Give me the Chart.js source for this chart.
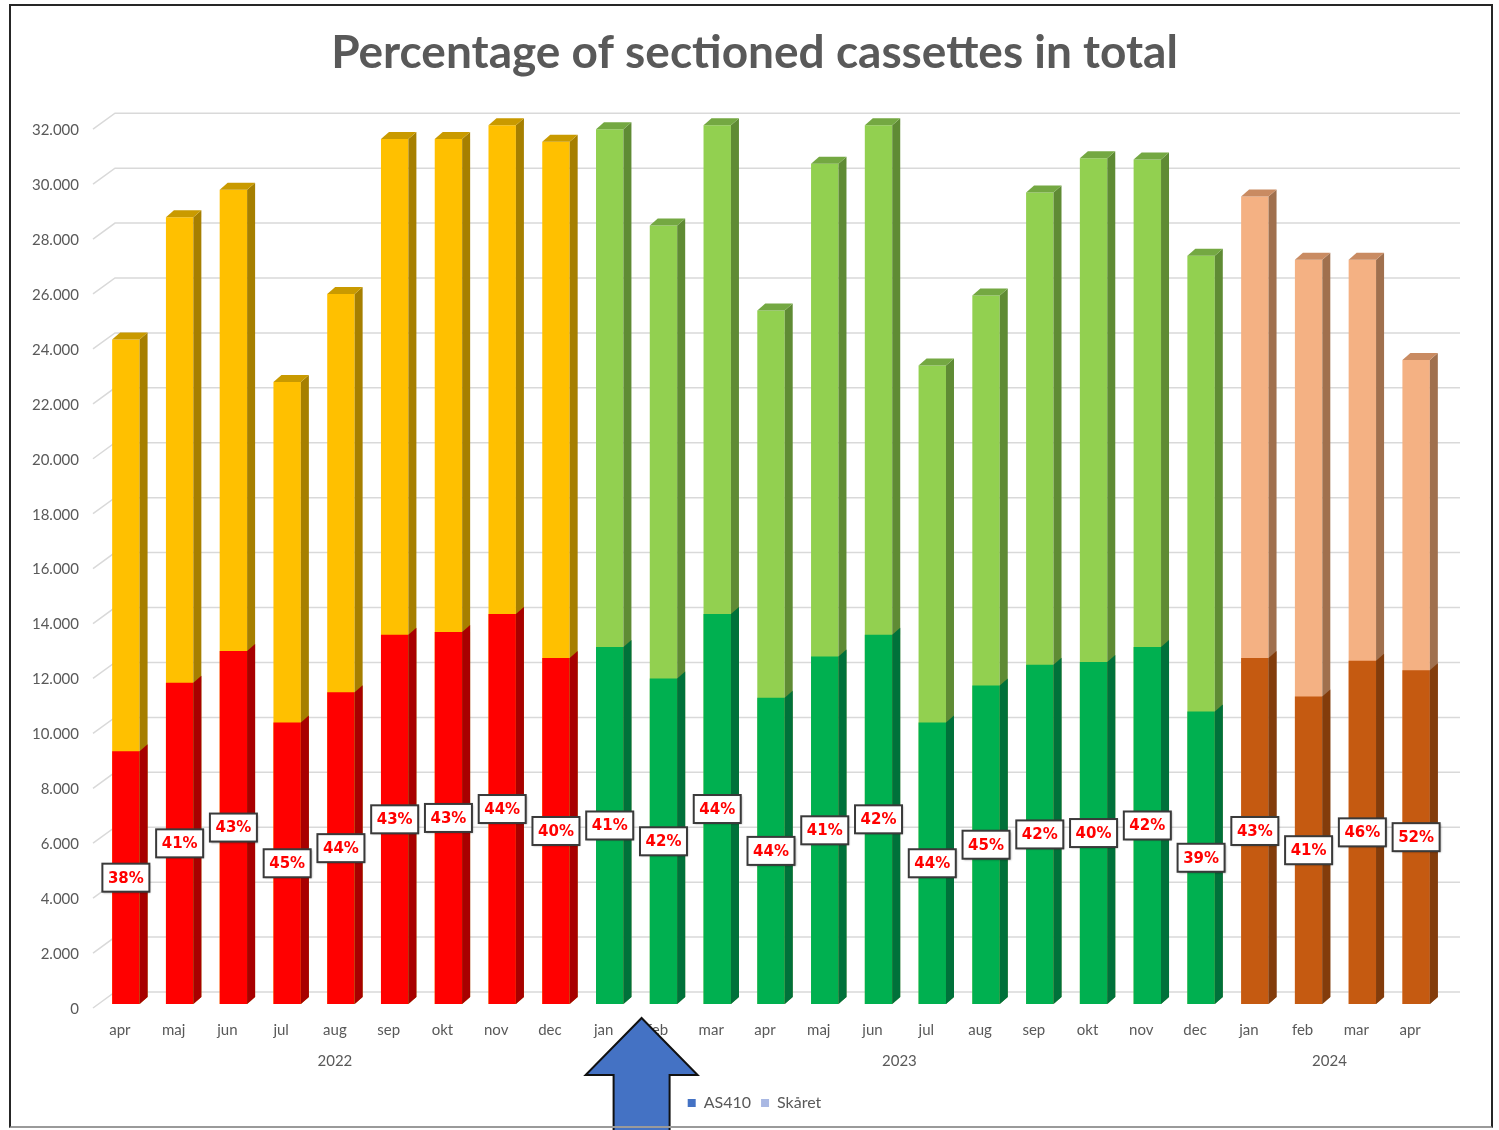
<!DOCTYPE html>
<html>
<head>
<meta charset="utf-8">
<title>Percentage of sectioned cassettes in total</title>
<script src="https://cdn.jsdelivr.net/npm/chart.js@4/dist/chart.umd.min.js"></script>
<style>
  html, body { margin: 0; padding: 0; background: #ffffff; }
  #wrap { position: relative; width: 1499px; height: 1130px; overflow: hidden; }
  #c { position: absolute; left: 0; top: 0; }
  #frame {
    position: absolute; left: 9px; top: 4px; width: 1484px; height: 1124px;
    box-sizing: border-box; border: 2px solid #262626; border-bottom-color: #9a9a9a;
    pointer-events: none;
  }
</style>
</head>
<body>
<div id="wrap">
  <canvas id="c" width="1499" height="1130"></canvas>
  <div id="frame"></div>
</div>
<script>
// Months shown on the category axis, with the year each month belongs to
const months = ['apr','maj','jun','jul','aug','sep','okt','nov','dec',
                'jan','feb','mar','apr','maj','jun','jul','aug','sep','okt','nov','dec',
                'jan','feb','mar','apr'];
const years  = ['2022','2022','2022','2022','2022','2022','2022','2022','2022',
                '2023','2023','2023','2023','2023','2023','2023','2023','2023','2023','2023','2023',
                '2024','2024','2024','2024'];

// Cassettes processed on AS410 per month (total)
const as410   = [24200, 28650, 29650, 22650, 25850, 31500, 31500, 32000, 31400,
                 31850, 28350, 32000, 25250, 30600, 32000, 23250, 25800, 29550, 30800, 30750, 27250,
                 29400, 27100, 27100, 23450];
// Cassettes sectioned (skåret) per month
const skaaret = [ 9200, 11700, 12850, 10250, 11350, 13450, 13550, 14200, 12600,
                 13000, 11850, 14200, 11150, 12650, 13450, 10250, 11600, 12350, 12450, 13000, 10650,
                 12600, 11200, 12500, 12150];

// Value axis range and tick step
const yMin = 0, yMax = 32000, yStep = 2000;

// Colours per year: front face, side face and top face of the bars
const palette = {
  '2022': { total: '#FFC000', totalSide: '#A67F00', totalTop: '#C99A00', part: '#FF0000', partSide: '#A80000' },
  '2023': { total: '#92D050', totalSide: '#5F8B34', totalTop: '#74A842', part: '#00B050', partSide: '#00713A' },
  '2024': { total: '#F4B183', totalSide: '#A0704E', totalTop: '#C98B62', part: '#C55A11', partSide: '#833C0B' }
};
const legendColors = ['#4472C4', '#A9B8E3'];
const textGrey = '#595959';

// Depth of the pseudo-3D columns
const DX = 8, DY = 7;

function formatThousands(v) {
  return String(v).replace(/\B(?=(\d{3})+(?!\d))/g, '.');
}

function sideFace(ctx, p, color) {
  const r = p.x + p.width / 2;
  ctx.fillStyle = color;
  ctx.beginPath();
  ctx.moveTo(r, p.base);
  ctx.lineTo(r, p.y);
  ctx.lineTo(r + DX, p.y - DY);
  ctx.lineTo(r + DX, p.base - DY);
  ctx.closePath();
  ctx.fill();
}

function topFace(ctx, p, color) {
  const l = p.x - p.width / 2, r = p.x + p.width / 2;
  ctx.fillStyle = color;
  ctx.beginPath();
  ctx.moveTo(l, p.y);
  ctx.lineTo(l + DX, p.y - DY);
  ctx.lineTo(r + DX, p.y - DY);
  ctx.lineTo(r, p.y);
  ctx.closePath();
  ctx.fill();
}

// Back-wall grid with the slanted floor edge on the left
const wallGrid = {
  id: 'wallGrid',
  beforeDatasetsDraw(chart) {
    const { ctx, scales: { x, y } } = chart;
    ctx.save();
    ctx.strokeStyle = '#D9D9D9';
    ctx.lineWidth = 1.5;
    for (let v = yMin; v <= yMax; v += yStep) {
      const yb = y.getPixelForValue(v);
      ctx.beginPath();
      ctx.moveTo(x.left - 6, yb + 4);
      ctx.lineTo(x.left + 16, yb - 12);
      ctx.lineTo(x.right + 17, yb - 12);
      ctx.stroke();
    }
    ctx.restore();
  }
};

// Side and top faces of the columns, then the percentage boxes
const columns3d = {
  id: 'columns3d',
  afterDatasetsDraw(chart) {
    const { ctx } = chart;
    const totalMeta = chart.getDatasetMeta(0);
    const partMeta = chart.getDatasetMeta(1);
    ctx.save();
    totalMeta.data.forEach((el, i) => {
      const p = el.getProps(['x', 'y', 'base', 'width'], true);
      sideFace(ctx, p, palette[years[i]].totalSide);
    });
    partMeta.data.forEach((el, i) => {
      const p = el.getProps(['x', 'y', 'base', 'width'], true);
      sideFace(ctx, p, palette[years[i]].partSide);
    });
    totalMeta.data.forEach((el, i) => {
      const p = el.getProps(['x', 'y', 'base', 'width'], true);
      topFace(ctx, p, palette[years[i]].totalTop);
    });

    // percentage labels centred on the sectioned part
    const bw = 47, bh = 28;
    ctx.font = 'bold 15px "DejaVu Sans"';
    ctx.textAlign = 'center';
    ctx.textBaseline = 'middle';
    partMeta.data.forEach((el, i) => {
      const p = el.getProps(['x', 'y', 'base'], true);
      const cx = p.x, cy = (p.y + p.base) / 2;
      const pct = Math.round(skaaret[i] / as410[i] * 100) + '%';
      ctx.save();
      ctx.shadowColor = 'rgba(0,0,0,0.35)';
      ctx.shadowOffsetX = 1;
      ctx.shadowOffsetY = 1;
      ctx.shadowBlur = 2;
      ctx.fillStyle = '#ffffff';
      ctx.fillRect(cx - bw / 2, cy - bh / 2, bw, bh);
      ctx.restore();
      ctx.strokeStyle = '#3a3a3a';
      ctx.lineWidth = 2;
      ctx.strokeRect(cx - bw / 2, cy - bh / 2, bw, bh);
      ctx.fillStyle = '#FF0000';
      ctx.fillText(pct, cx, cy + 1);
    });
    ctx.restore();
  }
};

// Year captions under each run of months, and the arrow marking the change
const axisExtras = {
  id: 'axisExtras',
  afterDraw(chart) {
    const { ctx, scales: { x }, chartArea } = chart;
    ctx.save();
    ctx.font = '15px Lato';
    ctx.fillStyle = textGrey;
    ctx.textAlign = 'center';
    ctx.textBaseline = 'middle';
    let start = 0;
    for (let i = 1; i <= years.length; i++) {
      if (i === years.length || years[i] !== years[start]) {
        const cx = (x.getPixelForValue(start) + x.getPixelForValue(i - 1)) / 2 - 6;
        ctx.fillText(years[start], cx, chartArea.bottom + 57);
        start = i;
      }
    }

    const tx = x.getPixelForValue(9.5) + 5;
    const ty = chartArea.bottom + 14;
    const headY = ty + 57;
    ctx.beginPath();
    ctx.moveTo(tx, ty);
    ctx.lineTo(tx + 56, headY);
    ctx.lineTo(tx + 28, headY);
    ctx.lineTo(tx + 28, chart.height + 10);
    ctx.lineTo(tx - 28, chart.height + 10);
    ctx.lineTo(tx - 28, headY);
    ctx.lineTo(tx - 56, headY);
    ctx.closePath();
    ctx.fillStyle = '#4472C4';
    ctx.fill();
    ctx.strokeStyle = '#111111';
    ctx.lineWidth = 2;
    ctx.stroke();
    ctx.restore();
  }
};

new Chart(document.getElementById('c'), {
  type: 'bar',
  data: {
    labels: months,
    datasets: [
      {
        label: 'AS410',
        data: as410,
        order: 2,
        grouped: false,
        clip: false,
        backgroundColor: ctx => palette[years[ctx.dataIndex]].total
      },
      {
        label: 'Skåret',
        data: skaaret,
        order: 1,
        grouped: false,
        clip: false,
        backgroundColor: ctx => palette[years[ctx.dataIndex]].part
      }
    ]
  },
  options: {
    responsive: false,
    animation: false,
    devicePixelRatio: 1,
    layout: { padding: { top: 0, left: 10, right: 0, bottom: 9 } },
    datasets: { bar: { barPercentage: 0.51, categoryPercentage: 1, borderWidth: 0 } },
    plugins: {
      title: {
        display: true,
        text: 'Percentage of sectioned cassettes in total',
        color: textGrey,
        font: { family: 'Lato', size: 46, weight: 'bold' },
        padding: { top: 26, bottom: 44 }
      },
      legend: {
        position: 'bottom',
        labels: {
          boxWidth: 8,
          boxHeight: 8,
          padding: 10,
          color: textGrey,
          font: { family: 'Lato', size: 16 },
          generateLabels: chart => chart.data.datasets.map((ds, i) => ({
            text: ds.label,
            fillStyle: legendColors[i],
            strokeStyle: legendColors[i],
            lineWidth: 0,
            hidden: false,
            datasetIndex: i,
            fontColor: textGrey
          }))
        }
      },
      tooltip: { enabled: false }
    },
    scales: {
      x: {
        type: 'category',
        offset: true,
        grid: { display: false },
        border: { display: false },
        ticks: {
          color: textGrey,
          font: { family: 'Lato', size: 15 },
          padding: 9,
          labelOffset: -6,
          maxRotation: 0,
          autoSkip: false
        },
        afterFit: s => { s.height = 81; }
      },
      y: {
        min: yMin,
        max: yMax,
        grid: { display: false, drawTicks: false },
        border: { display: false },
        ticks: {
          stepSize: yStep,
          color: textGrey,
          font: { family: 'Lato', size: 15 },
          padding: 20,
          labelOffset: 5,
          callback: v => formatThousands(v)
        },
        afterFit: s => { s.width = 89; }
      },
      yRight: {
        position: 'right',
        display: true,
        grid: { display: false, drawTicks: false },
        border: { display: false },
        ticks: { display: false },
        afterFit: s => { s.width = 56; }
      }
    }
  },
  plugins: [wallGrid, columns3d, axisExtras]
});
</script>
</body>
</html>
